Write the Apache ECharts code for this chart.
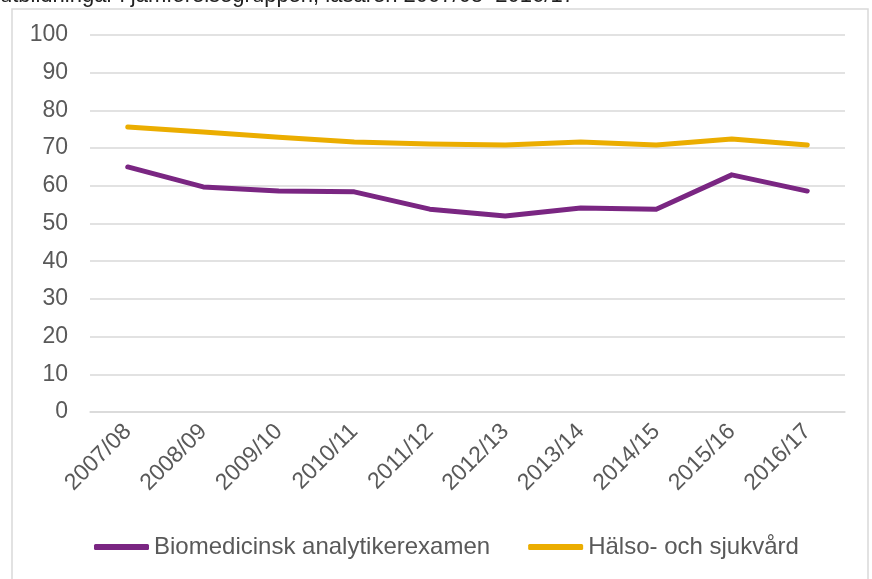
<!DOCTYPE html>
<html>
<head>
<meta charset="utf-8">
<script src="https://cdn.jsdelivr.net/npm/echarts@6/dist/echarts.min.js"></script>
<style>
html,body{margin:0;padding:0;background:#fff;}
#main{width:872px;height:579px;}
</style>
</head>
<body>
<div id="main"></div>
<script>
var years = ['2007/08','2008/09','2009/10','2010/11','2011/12','2012/13','2013/14','2014/15','2015/16','2016/17'];
var biomed = [65.0, 59.7, 58.6, 58.4, 53.8, 52.0, 54.1, 53.8, 62.9, 58.6];
var halso = [75.6, 74.3, 72.9, 71.6, 71.1, 70.8, 71.6, 70.8, 72.4, 70.8];
var yTicks = [0, 10, 20, 30, 40, 50, 60, 70, 80, 90, 100];

var dom = document.getElementById("main");
var myChart = echarts.init(dom);
var font = 'Liberation Sans, Arial, sans-serif';

option = {
    animation: false,
    textStyle: { fontFamily: font },
    graphic: [
        {
            type: 'rect',
            shape: { x: 12, y: 9, width: 856, height: 600 },
            style: { fill: 'none', stroke: '#D9D9D9', lineWidth: 1.5 },
            silent: true
        },
        {
            type: 'text',
            left: 0,
            top: -15,
            style: {
                text: 'utbildningar i jämförelsegruppen, läsåren 2007/08–2016/17',
                font: '22px ' + font,
                fill: '#222'
            },
            silent: true
        }
    ],
    grid: { left: 90, right: 27, top: 35, bottom: 167 },
    legend: {
        left: 89,
        top: 530,
        itemWidth: 55,
        itemHeight: 6,
        itemGap: 38,
        icon: 'roundRect',
        textStyle: { fontSize: 24, color: '#595959', fontFamily: font },
        data: ['Biomedicinsk analytikerexamen', 'Hälso- och sjukvård']
    },
    xAxis: {
        type: 'category',
        data: years,
        boundaryGap: true,
        axisLine: { lineStyle: { color: '#D9D9D9', width: 1.5 } },
        axisTick: { show: false },
        axisLabel: { rotate: 45, fontSize: 23, color: '#595959', margin: 16, interval: 0 }
    },
    yAxis: {
        type: 'value',
        min: yTicks[0],
        max: yTicks[yTicks.length - 1],
        interval: 10,
        axisLine: { show: false },
        axisTick: { show: false },
        axisLabel: { fontSize: 23, color: '#595959', margin: 22 },
        splitLine: { lineStyle: { color: '#D9D9D9', width: 1.5 } }
    },
    series: [
        {
            name: 'Biomedicinsk analytikerexamen',
            type: 'line',
            data: biomed,
            symbol: 'none',
            color: '#7A2682',
            lineStyle: { width: 5, cap: 'round', join: 'round' }
        },
        {
            name: 'Hälso- och sjukvård',
            type: 'line',
            data: halso,
            symbol: 'none',
            color: '#EBAD00',
            lineStyle: { width: 5, cap: 'round', join: 'round' }
        }
    ]
};

if (option && typeof option === "object") {
    myChart.setOption(option, true);
}
</script>
</body>
</html>
